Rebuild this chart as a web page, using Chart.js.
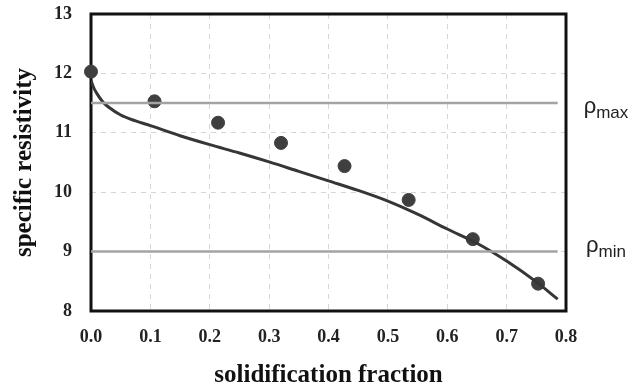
<!DOCTYPE html>
<html>
<head>
<meta charset="utf-8">
<script src="https://cdn.jsdelivr.net/npm/chart.js@4/dist/chart.umd.min.js"></script>
<style>
  html, body { margin: 0; padding: 0; background: #fff; }
  #wrap { width: 638px; height: 391px; }
</style>
</head>
<body>
<div id="wrap"><canvas id="chart" width="638" height="391"></canvas></div>
<script>
// Measured points
const fraction = [0, 0.107, 0.214, 0.32, 0.427, 0.535, 0.643, 0.753];
const resistivity = [12.03, 11.53, 11.17, 10.83, 10.44, 9.87, 9.21, 8.46];

// Model curve
const curveFraction = [0, 0.005, 0.01, 0.02, 0.03, 0.05, 0.075, 0.1, 0.15, 0.2, 0.25, 0.3, 0.35, 0.4, 0.45, 0.5, 0.55, 0.6, 0.65, 0.7, 0.75, 0.786];
const curveResistivity = [11.88, 11.75, 11.66, 11.52, 11.43, 11.3, 11.2, 11.12, 10.95, 10.8, 10.66, 10.51, 10.35, 10.19, 10.03, 9.85, 9.63, 9.38, 9.14, 8.84, 8.49, 8.2];

// Limit lines
const limitFraction = [0, 0.786];
const rhoMax = 11.5;
const rhoMin = 9.0;

// Axis ticks
const xTicks = [0, 0.1, 0.2, 0.3, 0.4, 0.5, 0.6, 0.7, 0.8];
const yTicks = [8, 9, 10, 11, 12, 13];

const toPoints = (xs, ys) => xs.map((x, i) => ({ x: x, y: ys[i] }));
const flatLine = (xs, v) => xs.map((x) => ({ x: x, y: v }));

const serif = "'Liberation Serif', 'Times New Roman', serif";
const sans = "'Liberation Sans', Arial, sans-serif";

// Black frame around the plot area
const frame = {
  id: "frame",
  beforeDatasetsDraw(chart) {
    const { ctx, chartArea: a } = chart;
    ctx.save();
    ctx.strokeStyle = "#111";
    ctx.lineWidth = 3;
    ctx.strokeRect(a.left, a.top, a.right - a.left, a.bottom - a.top);
    ctx.restore();
  },
};

// rho_max / rho_min labels right of the plot
const rhoLabels = {
  id: "rhoLabels",
  afterDraw(chart) {
    const { ctx, chartArea: a } = chart;
    const y = chart.scales.y;
    const labels = [
      { sub: "max", value: rhoMax, dy: 10 },
      { sub: "min", value: rhoMin, dy: 0 },
    ];
    ctx.save();
    ctx.fillStyle = "#222";
    ctx.textBaseline = "alphabetic";
    labels.forEach((l) => {
      ctx.font = "22px " + sans;
      const w1 = ctx.measureText("\u03c1").width;
      ctx.font = "17px " + sans;
      const w2 = ctx.measureText(l.sub).width;
      const cx = a.right + 40;
      const x0 = cx - (w1 + w2) / 2;
      const base = y.getPixelForValue(l.value) + l.dy;
      ctx.font = "22px " + sans;
      ctx.fillText("\u03c1", x0, base);
      ctx.font = "17px " + sans;
      ctx.fillText(l.sub, x0 + w1, base + 5);
    });
    ctx.restore();
  },
};

const ctx = document.getElementById("chart").getContext("2d");
const chart = new Chart(ctx, {
  type: "scatter",
  data: {
    datasets: [
      {
        label: "rho max",
        data: flatLine(limitFraction, rhoMax),
        showLine: true,
        borderColor: "#a3a3a3",
        borderWidth: 2.5,
        pointRadius: 0,
      },
      {
        label: "rho min",
        data: flatLine(limitFraction, rhoMin),
        showLine: true,
        borderColor: "#a3a3a3",
        borderWidth: 2.5,
        pointRadius: 0,
      },
      {
        label: "model",
        data: toPoints(curveFraction, curveResistivity),
        showLine: true,
        borderColor: "#363636",
        borderWidth: 3,
        tension: 0.4,
        cubicInterpolationMode: "monotone",
        pointRadius: 0,
      },
      {
        label: "measured",
        data: toPoints(fraction, resistivity),
        backgroundColor: "#3f3f3f",
        borderColor: "#3f3f3f",
        pointRadius: 6.5,
        clip: false,
      },
    ],
  },
  options: {
    responsive: false,
    animation: false,
    layout: { padding: { top: 14, right: 72, left: 0, bottom: 0 } },
    plugins: {
      legend: { display: false },
      tooltip: { enabled: false },
    },
    scales: {
      x: {
        type: "linear",
        min: 0,
        max: 0.8,
        afterBuildTicks: (s) => { s.ticks = xTicks.map((v) => ({ value: v })); },
        afterFit: (s) => { s.height = 80; },
        ticks: {
          padding: 16,
          color: "#222",
          font: { family: serif, size: 18, weight: "bold" },
          callback: (v) => Number(v).toFixed(1),
        },
        grid: { color: "#d6d6d6", drawTicks: false, lineWidth: 1 },
        border: { display: false, dash: [5, 5] },
        title: {
          display: true,
          text: "solidification fraction",
          color: "#111",
          font: { family: serif, size: 25, weight: "bold" },
          padding: { top: 0, bottom: 0 },
        },
      },
      y: {
        type: "linear",
        min: 8,
        max: 13,
        afterBuildTicks: (s) => { s.ticks = yTicks.map((v) => ({ value: v })); },
        afterFit: (s) => {
          s.width = 91;
          s.paddingTop = 0;
          s.paddingBottom = 0;
        },
        ticks: {
          padding: 19,
          color: "#222",
          font: { family: serif, size: 18, weight: "bold" },
        },
        grid: { color: "#d6d6d6", drawTicks: false, lineWidth: 1 },
        border: { display: false, dash: [5, 5] },
        title: {
          display: true,
          text: "specific resistivity",
          color: "#111",
          font: { family: serif, size: 25, weight: "bold" },
          padding: { top: 10, bottom: 0 },
        },
      },
    },
  },
  plugins: [frame, rhoLabels],
});
</script>
</body>
</html>
